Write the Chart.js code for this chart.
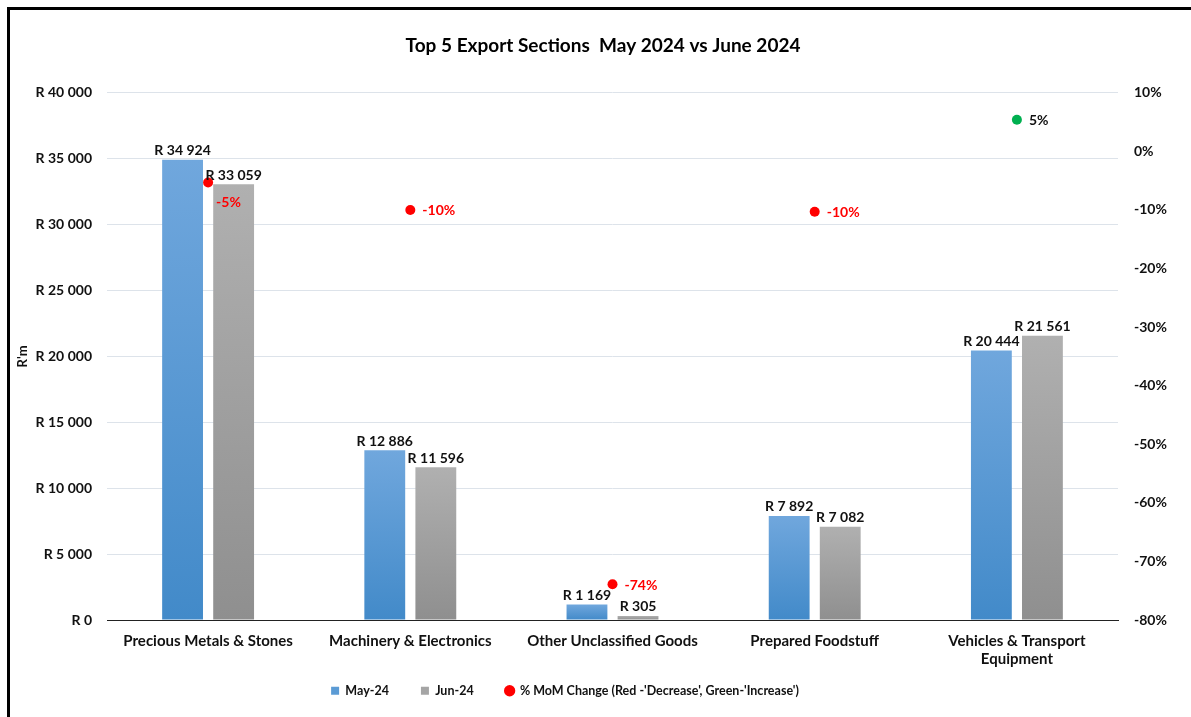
<!DOCTYPE html>
<html>
<head>
<meta charset="utf-8">
<script src="https://cdn.jsdelivr.net/npm/chart.js@4.4.1/dist/chart.umd.min.js"></script>
<style>
    body { margin: 0; background: #fff; overflow: hidden; }
    #wrap { position: relative; width: 1191px; height: 717px; }
    #frame { position: absolute; left: 7px; top: 7px; right: -10px; bottom: -10px;
             border-left: 3px solid #000; border-top: 3px solid #000; pointer-events: none; }
</style>
</head>
<body>
<div id="wrap">
    <canvas id="exportChart" width="1191" height="717"></canvas>
    <div id="frame"></div>
</div>
<script>
// 類別與數據
const categories = [
    "Precious Metals & Stones",
    "Machinery & Electronics",
    "Other Unclassified Goods",
    "Prepared Foodstuff",
    ["Vehicles & Transport", "Equipment"]
];
const may24 = [34924, 12886, 1169, 7892, 20444];
const jun24 = [33059, 11596, 305, 7082, 21561];
const momChange = [-5.3, -10.0, -73.9, -10.3, 5.4];

const FONT = "Lato, 'Open Sans', sans-serif";
const RED = '#ff0000';
const GREEN = '#00b050';

// 金額格式 R 34 924
function rand(v) {
    return 'R ' + String(Math.round(v)).replace(/\B(?=(\d{3})+(?!\d))/g, ' ');
}

// 每根柱子自己的漸層
function barGradient(top, bottom) {
    return function(ctx) {
        const chart = ctx.chart;
        const y = chart.scales.y;
        if (!chart.chartArea || !y || ctx.type !== 'data') return top;
        const v = ctx.parsed ? ctx.parsed.y : ctx.raw;
        const y0 = y.getPixelForValue(v);
        const y1 = y.getPixelForValue(0);
        if (!isFinite(y0) || !isFinite(y1) || y0 === y1) return top;
        const g = chart.ctx.createLinearGradient(0, y0, 0, y1);
        g.addColorStop(0, top);
        g.addColorStop(1, bottom);
        return g;
    };
}

// 數據標籤 (沒有 datalabels 外掛，自己畫)
const labelPlugin = {
    id: 'valueLabels',
    afterLayout(chart) {
        // 標題和圖例的水平位置微調
        if (chart.titleBlock) { chart.titleBlock.left += 8; chart.titleBlock.right += 8; }
        if (chart.legend) { chart.legend.left -= 30; chart.legend.right -= 30; }
        // x 軸標籤第二行不要被裁掉
        if (chart.scales.x) chart.scales.x.bottom += 30;
    },
    afterDatasetsDraw(chart) {
        const ctx = chart.ctx;
        ctx.save();
        ctx.font = "bold 14px " + FONT;
        [0, 1].forEach(di => {
            const meta = chart.getDatasetMeta(di);
            meta.data.forEach((bar, i) => {
                ctx.fillStyle = '#111';
                ctx.textAlign = 'center';
                ctx.textBaseline = 'bottom';
                ctx.fillText(rand(chart.data.datasets[di].data[i]), bar.x, bar.y - 2);
            });
        });
        const pm = chart.getDatasetMeta(2);
        pm.data.forEach((pt, i) => {
            const v = momChange[i];
            ctx.fillStyle = v < 0 ? RED : '#111';
            ctx.textAlign = 'left';
            ctx.textBaseline = 'middle';
            const txt = Math.round(v) + '%';
            if (i === 0) ctx.fillText(txt, pt.x + 8, pt.y + 20);
            else ctx.fillText(txt, pt.x + 12, pt.y + 1);
        });
        ctx.restore();
    }
};

new Chart(document.getElementById('exportChart'), {
    data: {
        labels: categories,
        datasets: [
            {
                type: 'bar',
                label: 'May-24',
                data: may24,
                backgroundColor: barGradient('#70a7dd', '#428ac9'),
                legendColor: '#5b9bd5',
                barPercentage: 0.8,
                categoryPercentage: 0.505,
                yAxisID: 'y',
                order: 2
            },
            {
                type: 'bar',
                label: 'Jun-24',
                data: jun24,
                backgroundColor: barGradient('#b0b0b0', '#8f8f8f'),
                legendColor: '#a5a5a5',
                barPercentage: 0.8,
                categoryPercentage: 0.505,
                yAxisID: 'y',
                order: 2
            },
            {
                type: 'line',
                label: "% MoM Change (Red -'Decrease', Green-'Increase')",
                data: momChange,
                showLine: false,
                pointRadius: 5,
                pointHoverRadius: 5,
                pointBorderWidth: 0,
                pointBackgroundColor: momChange.map(v => v < 0 ? RED : GREEN),
                pointBorderColor: momChange.map(v => v < 0 ? RED : GREEN),
                legendColor: RED,
                yAxisID: 'y1',
                order: 1
            }
        ]
    },
    options: {
        responsive: false,
        animation: false,
        layout: { padding: { left: 12, right: 13, top: 20, bottom: 10 } },
        plugins: {
            title: {
                display: true,
                text: 'Top 5 Export Sections  May 2024 vs June 2024',
                color: '#000',
                font: { family: FONT, size: 19, weight: 'bold' },
                padding: { top: 14, bottom: 36 }
            },
            legend: {
                position: 'bottom',
                labels: {
                    color: '#111',
                    font: { family: FONT, size: 12.5, weight: 'bold' },
                    boxWidth: 8,
                    boxHeight: 8,
                    padding: 32,
                    usePointStyle: true,
                    generateLabels(chart) {
                        return chart.data.datasets.map((ds, i) => ({
                            text: ds.label,
                            fillStyle: ds.legendColor,
                            strokeStyle: ds.legendColor,
                            lineWidth: 0,
                            pointStyle: i === 2 ? 'circle' : 'rect',
                            fontColor: '#111',
                            hidden: false,
                            datasetIndex: i
                        }));
                    }
                }
            },
            tooltip: { enabled: false }
        },
        scales: {
            x: {
                grid: { display: false, drawTicks: false },
                border: { color: '#222', width: 1 },
                ticks: {
                    color: '#111',
                    font: { family: FONT, size: 15, weight: 'bold' },
                    padding: 12,
                    maxRotation: 0
                },
                afterFit(s) { s.height = 32.5; }
            },
            y: {
                position: 'left',
                min: 0,
                max: 40000,
                ticks: {
                    stepSize: 5000,
                    color: '#111',
                    padding: 15,
                    font: { family: FONT, size: 14, weight: 'bold' },
                    callback: v => rand(v)
                },
                grid: { color: '#dde3ea', lineWidth: 1, drawTicks: false },
                border: { display: false },
                title: {
                    display: true,
                    text: "R'm",
                    color: '#111',
                    font: { family: FONT, size: 13, weight: 'bold' },
                    padding: 3
                },
                afterFit(s) { s.width = 95; }
            },
            y1: {
                position: 'right',
                min: -80,
                max: 10,
                ticks: {
                    stepSize: 10,
                    color: '#111',
                    padding: 16,
                    font: { family: FONT, size: 14, weight: 'bold' },
                    callback: v => v + '%'
                },
                grid: { display: false, drawTicks: false },
                border: { display: false },
                afterFit(s) { s.width = 60; }
            }
        }
    },
    plugins: [labelPlugin]
});
</script>
</body>
</html>
